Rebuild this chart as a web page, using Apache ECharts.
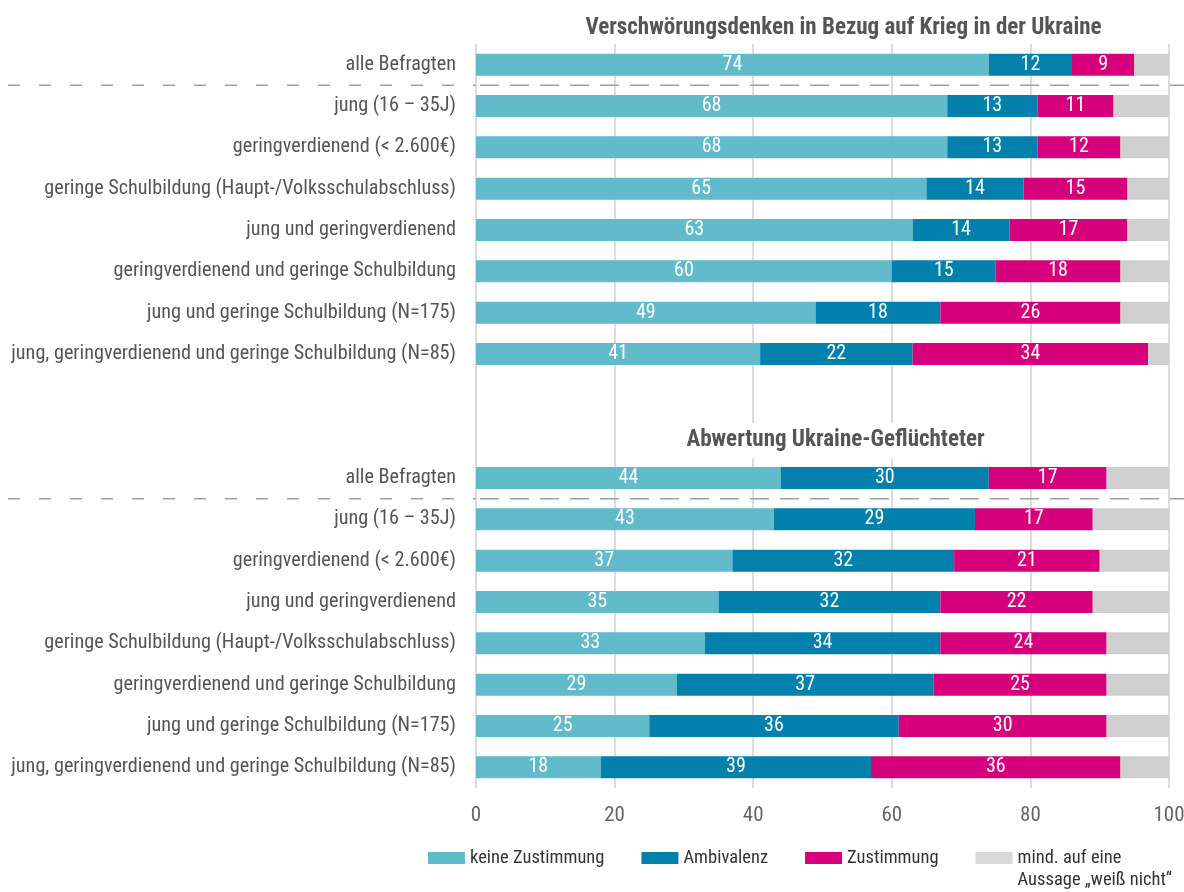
<!DOCTYPE html>
<html>
<head>
<meta charset="utf-8">
<script src="https://cdn.jsdelivr.net/npm/echarts@6/dist/echarts.min.js"></script>
<style>
html,body{margin:0;padding:0;background:#fff;}
#chart{width:1184px;height:892px;}
</style>
</head>
<body>
<div id="chart"></div>
<script>
var categories = [
  "alle Befragten",
  "jung (16 – 35J)",
  "geringverdienend (< 2.600€)",
  "geringe Schulbildung (Haupt-/Volksschulabschluss)",
  "jung und geringverdienend",
  "geringverdienend und geringe Schulbildung",
  "jung und geringe Schulbildung (N=175)",
  "jung, geringverdienend und geringe Schulbildung (N=85)",
  "",
  "",
  "alle Befragten",
  "jung (16 – 35J)",
  "geringverdienend (< 2.600€)",
  "jung und geringverdienend",
  "geringe Schulbildung (Haupt-/Volksschulabschluss)",
  "geringverdienend und geringe Schulbildung",
  "jung und geringe Schulbildung (N=175)",
  "jung, geringverdienend und geringe Schulbildung (N=85)"
];
var seriesNames = ["keine Zustimmung", "Ambivalenz", "Zustimmung", "mind. auf eine\nAussage „weiß nicht“"];
var keineZustimmung = [74, 68, 68, 65, 63, 60, 49, 41, null, null, 44, 43, 37, 35, 33, 29, 25, 18];
var ambivalenz      = [12, 13, 13, 14, 14, 15, 18, 22, null, null, 30, 29, 32, 32, 34, 37, 36, 39];
var zustimmung      = [9, 11, 12, 15, 17, 18, 26, 34, null, null, 17, 17, 21, 22, 24, 25, 30, 36];
var weissNicht      = [5, 8, 7, 6, 6, 7, 7, 3, null, null, 9, 11, 10, 11, 9, 9, 9, 7];
var groupTitles = ["Verschwörungsdenken in Bezug auf Krieg in der Ukraine", "Abwertung Ukraine-Geflüchteter"];
var xTicks = [0, 20, 40, 60, 80, 100];

var FONT = "'Roboto Condensed', 'DejaVu Sans Condensed', sans-serif";
var colors = ["#62BBCB", "#0381AC", "#D6007D", "#CFCFCF"];
var legendColors = ["#62BBCB", "#0381AC", "#D6007D", "#D9D9D9"];
var values = [keineZustimmung, ambivalenz, zustimmung, weissNicht];

var chart = echarts.init(document.getElementById('chart'), null, {renderer: 'canvas'});

var series = values.map(function (arr, i) {
  return {
    name: seriesNames[i],
    type: 'bar',
    stack: 'total',
    barWidth: 22,
    data: arr,
    itemStyle: {color: colors[i]},
    emphasis: {disabled: true},
    label: {
      show: i < 3,
      position: 'inside',
      color: '#fff',
      fontFamily: FONT,
      fontSize: 20
    }
  };
});

var legendData = seriesNames.map(function (n, i) {
  return {name: n, itemStyle: {color: legendColors[i]}};
});

chart.setOption({
  animation: false,
  grid: {left: 476, right: 15, top: 44, bottom: 104, containLabel: false, outerBoundsMode: 'none'},
  xAxis: {
    type: 'value',
    min: xTicks[0],
    max: xTicks[xTicks.length - 1],
    interval: 20,
    axisLine: {show: false},
    axisTick: {show: false},
    splitLine: {show: true, lineStyle: {color: '#DCDCDC', width: 2}},
    axisLabel: {color: '#666', fontFamily: FONT, fontSize: 21, margin: 17}
  },
  yAxis: {
    type: 'category',
    inverse: true,
    data: categories,
    axisLine: {show: false},
    axisTick: {show: false},
    splitLine: {show: false},
    axisLabel: {color: '#555', fontFamily: FONT, fontSize: 20.2, margin: 20, interval: 0}
  },
  legend: {
    left: 428,
    top: 852 - 27,
    padding: 0,
    itemWidth: 37,
    itemHeight: 12,
    itemGap: 37,
    icon: 'rect',
    selectedMode: false,
    textStyle: {color: '#333', fontFamily: FONT, fontSize: 18.5, lineHeight: 22},
    formatter: function (name) { return name.indexOf('\n') >= 0 ? '\n' + name : name; },
    data: legendData
  },
  series: series
});

function place() {
  var yOf = function (i) { return chart.convertToPixel({yAxisIndex: 0}, i); };
  var sep1 = (yOf(0) + yOf(1)) / 2;
  var sep2 = (yOf(10) + yOf(11)) / 2;
  var x0 = chart.convertToPixel({xAxisIndex: 0}, 0);
  var x100 = chart.convertToPixel({xAxisIndex: 0}, 100);
  var step = yOf(1) - yOf(0);
  var els = [];
  [sep1, sep2].forEach(function (y) {
    els.push({type: 'line', shape: {x1: 8, y1: y, x2: x0, y2: y}, style: {stroke: '#A0A0A0', lineWidth: 1.5, lineDash: [12, 19]}, z: 10});
    els.push({type: 'line', shape: {x1: x0 + 4, y1: y, x2: 1184, y2: y}, style: {stroke: '#A0A0A0', lineWidth: 1.5, lineDash: [19, 11]}, z: 10});
  });
  var cx = (x0 + x100) / 2;
  els.push({type: 'text', x: cx + 21, y: yOf(0) - step + 5, z: 10,
    style: {text: groupTitles[0], textAlign: 'center', textVerticalAlign: 'middle', fill: '#555', font: 'bold 23px ' + FONT}});
  els.push({type: 'text', x: cx + 13, y: yOf(9) + 4, z: 10,
    style: {text: groupTitles[1], textAlign: 'center', textVerticalAlign: 'middle', fill: '#555', font: 'bold 23px ' + FONT,
      backgroundColor: '#fff', padding: [6, 30, 6, 30]}});
  chart.setOption({graphic: {elements: els}});
}
place();
</script>
</body>
</html>
